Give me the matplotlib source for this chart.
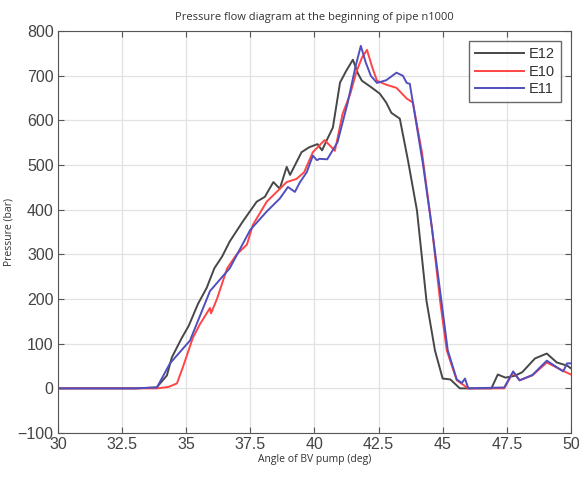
import matplotlib
matplotlib.use("Agg")
import matplotlib.pyplot as plt

# angle (deg) / pressure (bar), one pair of lists per run
e12_x = [30, 33.0, 33.85, 34.25, 34.44, 34.83, 35.1, 35.46, 35.8, 36.1, 36.4, 36.7, 37.2, 37.75,
         38.07, 38.4, 38.65, 38.92, 39.05, 39.5, 39.8, 40.12, 40.3, 40.5, 40.72, 41.0, 41.25, 41.5,
         41.7, 41.85, 42.2, 42.55, 42.8, 43.0, 43.33, 43.65, 44.0, 44.37, 44.7, 45.0, 45.3, 45.67,
         46.9, 47.15, 47.45, 47.8, 48.1, 48.6, 49.06, 49.45, 49.85, 50]
e12_y = [0, 0, 2, 29, 69, 113, 140, 189, 225, 269, 295, 329, 373, 418,
         429, 462, 447, 496, 478, 529, 540, 547, 533, 558, 584, 685, 712, 736,
         705, 689, 675, 660, 640, 617, 604, 510, 398, 196, 85, 22, 20, 0,
         0, 31, 24, 28, 36, 67, 78, 58, 51, 45]

e10_x = [30, 33.0, 33.86, 34.3, 34.64, 34.87, 35.26, 35.54, 35.93, 35.97, 36.2, 36.6, 36.97, 37.37,
         37.6, 38.14, 38.53, 38.92, 39.3, 39.6, 39.94, 40.4, 40.8, 41.1, 41.4, 41.65, 41.85, 42.05,
         42.25, 42.44, 42.8, 43.2, 43.6, 43.84, 44.2, 44.58, 44.9, 45.16, 45.55, 46.0, 47.4, 47.75,
         48.0, 48.5, 49.06, 49.6, 50]
e10_y = [0, 0, 0, 3, 11, 47, 113, 144, 180, 168, 200, 269, 300, 322,
         366, 418, 440, 462, 469, 484, 529, 556, 532, 615, 660, 711, 740, 758,
         720, 689, 680, 673, 649, 640, 526, 360, 196, 85, 18, 0, 0, 36,
         18, 29, 58, 42, 31]

e11_x = [30, 33.0, 33.86, 34.37, 35.15, 35.93, 36.7, 37.5, 38.14, 38.65, 38.97, 39.24, 39.43, 39.7,
         39.94, 40.1, 40.2, 40.5, 40.9, 41.3, 41.4, 41.6, 41.81, 42.0, 42.2, 42.44, 42.8, 43.2,
         43.45, 43.6, 43.72, 44.23, 44.58, 44.95, 45.2, 45.55, 45.75, 45.87, 46.0, 47.4, 47.75, 48.0,
         48.5, 49.06, 49.7, 49.85, 50]
e11_y = [0, 0, 2, 56, 107, 218, 269, 355, 396, 425, 451, 440, 461, 484,
         521, 511, 514, 513, 551, 640, 667, 720, 767, 730, 700, 684, 690, 707,
         700, 684, 682, 503, 360, 196, 85, 20, 12, 22, 0, 2, 38, 18,
         30, 62, 38, 56, 56]

xticks = [30, 32.5, 35, 37.5, 40, 42.5, 45, 47.5, 50]
xticklabels = ["30", "32.5", "35", "37.5", "40", "42.5", "45", "47.5", "50"]

plt.rcParams["font.family"] = ["Liberation Sans", "DejaVu Sans"]

fig = plt.figure(figsize=(5.79, 4.79), dpi=100)
ax = fig.add_axes([0.100, 0.096, 0.886, 0.839])

ax.plot(e12_x, e12_y, color="#474747", lw=1.4, label="E12")
ax.plot(e10_x, e10_y, color="#ff4545", lw=1.4, label="E10")
ax.plot(e11_x, e11_y, color="#4f4fbf", lw=1.4, label="E11")

ax.set_xlim(30, 50)
ax.set_ylim(-100, 800)
ax.set_xticks(xticks)
ax.set_xticklabels(xticklabels)
ax.set_yticks(range(-100, 801, 100))
ax.grid(True, color="#e2e2e2", lw=0.9)
ax.set_axisbelow(True)
ax.tick_params(direction="in", top=True, right=True, labelsize=11.5,
               labelcolor="#444444", color="#555555", length=4, pad=3)
for s in ax.spines.values():
    s.set_color("#555555")

small = ["Open Sans", "DejaVu Sans"]
ax.set_title("Pressure flow diagram at the beginning of pipe n1000", fontsize=8,
             color="#333333", pad=8, family=small)
ax.set_xlabel("Angle of BV pump (deg)", fontsize=7.5, color="#333333", labelpad=1, family=small)
ax.set_ylabel("Pressure (bar)", fontsize=7.5, color="#333333", labelpad=2, family=small)

leg = ax.legend(loc="upper right", fontsize=10.5, fancybox=False, handlelength=3.4,
                borderpad=0.4, labelspacing=0.25, handletextpad=0.3, borderaxespad=0.7)
leg.get_frame().set_edgecolor("#444444")
leg.get_frame().set_linewidth(1.0)
for t in leg.get_texts():
    t.set_color("#333333")

fig.savefig("out.png", dpi=100)
